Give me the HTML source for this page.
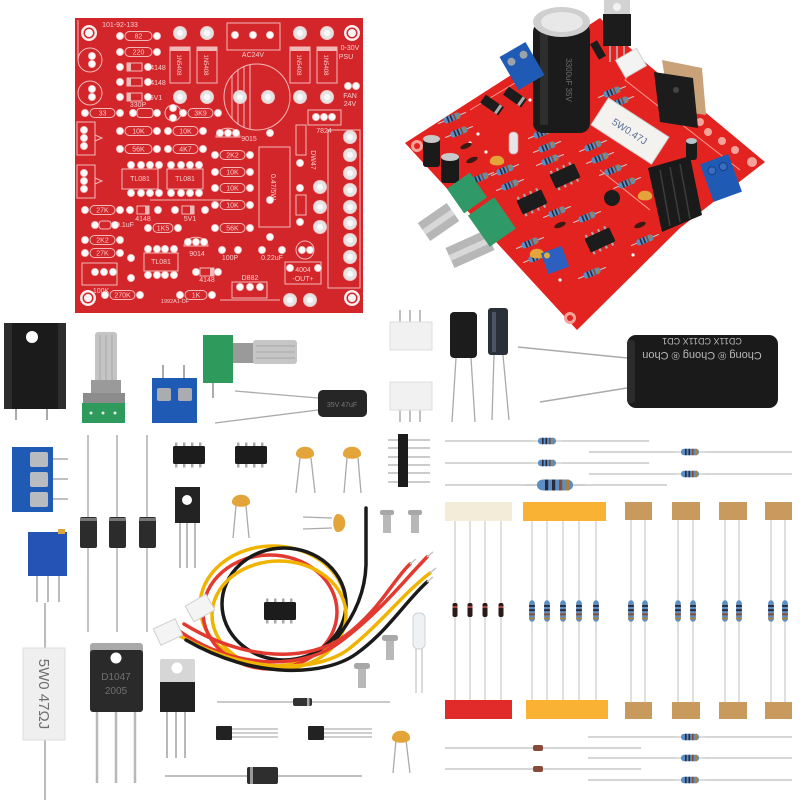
<!DOCTYPE html>
<html><head><meta charset="utf-8">
<style>html,body{margin:0;padding:0;background:#fff}svg{display:block}</style>
</head><body>
<svg width="800" height="800" viewBox="0 0 800 800" xmlns="http://www.w3.org/2000/svg" font-family="Liberation Sans, sans-serif">
<defs>
  <circle id="p" r="3.6" fill="#fbfbfb" stroke="#f0b6b6" stroke-width="0.8"/>
  <g id="P"><circle r="6.5" fill="#e4e4e4" stroke="#f4c4c4" stroke-width="1"/><circle r="3" fill="#fafafa"/></g>
  <g id="rb">
    <line x1="-15" y1="0" x2="15" y2="0" stroke="#c9c9c9" stroke-width="1"/>
    <rect x="-9" y="-3.2" width="18" height="6.4" rx="3" fill="#5b8ec4"/>
    <rect x="-5" y="-3.2" width="1.6" height="6.4" fill="#2a2a3a"/>
    <rect x="-1.5" y="-3.2" width="1.6" height="6.4" fill="#2a2a3a"/>
    <rect x="2" y="-3.2" width="1.6" height="6.4" fill="#8b4b2b"/>
    <rect x="5.6" y="-3.2" width="1.4" height="6.4" fill="#b08030"/>
  </g>
  <g id="ic">
    <rect x="-14" y="-12.5" width="2.5" height="4" fill="#aaa"/><rect x="-6" y="-12.5" width="2.5" height="4" fill="#aaa"/><rect x="2" y="-12.5" width="2.5" height="4" fill="#aaa"/><rect x="10" y="-12.5" width="2.5" height="4" fill="#aaa"/>
    <rect x="-14" y="8.5" width="2.5" height="4" fill="#aaa"/><rect x="-6" y="8.5" width="2.5" height="4" fill="#aaa"/><rect x="2" y="8.5" width="2.5" height="4" fill="#aaa"/><rect x="10" y="8.5" width="2.5" height="4" fill="#aaa"/>
    <rect x="-16" y="-9" width="32" height="18" rx="1.5" fill="#1c1c1c"/>
  </g>
  <g id="cc">
    <path d="M-9,3 C-10,-8 10,-8 9,3 C7,8 -7,8 -9,3 Z" fill="#e3a53a"/>
  </g>
</defs>
<rect width="800" height="800" fill="#fff"/>

<!-- ================= FLAT PCB ================= -->
<rect x="75" y="18" width="288" height="295" fill="#d3262b"/>
<g fill="none" stroke="#f2b8b8" stroke-width="1">
  <!-- resistor outlines -->
  <rect x="125" y="31.5" width="27" height="9" rx="4.5"/>
  <rect x="125" y="47.5" width="27" height="9" rx="4.5"/>
  <rect x="90" y="108.5" width="25" height="9" rx="4.5"/>
  <rect x="188" y="108.5" width="25" height="9" rx="4.5"/>
  <rect x="125" y="126.5" width="27" height="9" rx="4.5"/>
  <rect x="173" y="126.5" width="25" height="9" rx="4.5"/>
  <rect x="125" y="144.5" width="27" height="9" rx="4.5"/>
  <rect x="173" y="144.5" width="25" height="9" rx="4.5"/>
  <rect x="220" y="150.5" width="25" height="9" rx="4.5"/>
  <rect x="220" y="167.5" width="25" height="9" rx="4.5"/>
  <rect x="220" y="183.5" width="25" height="9" rx="4.5"/>
  <rect x="220" y="200.5" width="25" height="9" rx="4.5"/>
  <rect x="220" y="223.5" width="25" height="9" rx="4.5"/>
  <rect x="90" y="205.5" width="25" height="9" rx="4.5"/>
  <rect x="90" y="235.5" width="25" height="9" rx="4.5"/>
  <rect x="90" y="248.5" width="25" height="9" rx="4.5"/>
  <rect x="110" y="290.5" width="25" height="9" rx="4.5"/>
  <rect x="185" y="290.5" width="22" height="9" rx="4.5"/>
  <rect x="153" y="223.5" width="20" height="9" rx="4.5"/>
  <rect x="99" y="221" width="12" height="8" rx="3"/>
  <rect x="137" y="108.5" width="16" height="9" rx="3"/>
  <!-- diodes -->
  <rect x="127" y="63" width="15" height="8"/><rect x="127" y="78" width="15" height="8"/><rect x="127" y="93" width="15" height="8"/>
  <rect x="137" y="206" width="12" height="8"/><rect x="182" y="206" width="12" height="8"/><rect x="200" y="268" width="14" height="8"/>
  <!-- caps circles -->
  <circle cx="90" cy="60" r="12"/><circle cx="90" cy="93" r="12"/>
  <circle cx="173" cy="113" r="8"/>
  <circle cx="305" cy="250" r="9"/>
  <!-- pot boxes -->
  <rect x="77" y="122" width="18" height="33"/><rect x="77" y="165" width="18" height="33"/>
  <path d="M95,135 L102,138 L95,141"/><path d="M95,178 L102,181 L95,184"/>
  <!-- ICs -->
  <rect x="122" y="169" width="36" height="20"/><rect x="167" y="169" width="36" height="20"/><rect x="144" y="253" width="34" height="18"/>
  <!-- transistor outlines -->
  <path d="M216,137 A11,8 0 0 1 240,137 Z"/>
  <path d="M184,246 A11,8 0 0 1 208,246 Z"/>
  <rect x="232" y="282" width="35" height="16"/>
  <!-- big cap -->
  <circle cx="257" cy="97" r="33"/>
  <line x1="232" y1="75" x2="232" y2="119"/><line x1="238" y1="69" x2="238" y2="125"/><line x1="244" y1="66" x2="244" y2="128"/><line x1="250" y1="65" x2="250" y2="129"/>
  <!-- terminal -->
  <rect x="227" y="23" width="53" height="27"/>
  <!-- 1N5408 -->
  <rect x="170" y="47" width="20" height="36"/><rect x="197" y="47" width="20" height="36"/>
  <rect x="290" y="47" width="20" height="36"/><rect x="317" y="47" width="20" height="36"/>
  <!-- 7824 -->
  <rect x="308" y="110" width="33" height="15"/>
  <rect x="296" y="125" width="10" height="30"/>
  <rect x="259" y="147" width="31" height="80"/>
  <rect x="296" y="195" width="10" height="20"/>
  <rect x="328" y="130" width="32" height="158"/>
  <rect x="285" y="262" width="36" height="22"/>
  <rect x="82" y="263" width="35" height="22"/>
  <path d="M78,20 L78,60"/>
  <path d="M150,200 L230,200 M220,300 L280,300"/>
</g>
<g fill="#f2b8b8">
  <rect x="127" y="63" width="4" height="8"/><rect x="127" y="78" width="4" height="8"/><rect x="127" y="93" width="4" height="8"/>
  <rect x="145" y="206" width="4" height="8"/><rect x="190" y="206" width="4" height="8"/><rect x="210" y="268" width="4" height="8"/>
  <rect x="170" y="47" width="20" height="4"/><rect x="197" y="47" width="20" height="4"/>
  <rect x="290" y="47" width="20" height="4"/><rect x="317" y="47" width="20" height="4"/>
</g>
<g fill="#f7cccc" font-size="7" text-anchor="middle">
  <text x="138.5" y="38.5">82</text><text x="138.5" y="54.5">220</text>
  <text x="102.5" y="115.5">33</text><text x="200.5" y="115.5">3K9</text>
  <text x="138.5" y="133.5">10K</text><text x="185.5" y="133.5">10K</text>
  <text x="138.5" y="151.5">56K</text><text x="185.5" y="151.5">4K7</text>
  <text x="232.5" y="157.5">2K2</text><text x="232.5" y="174.5">10K</text>
  <text x="232.5" y="190.5">10K</text><text x="232.5" y="207.5">10K</text>
  <text x="232.5" y="230.5">56K</text>
  <text x="102.5" y="212.5">27K</text><text x="102.5" y="242.5">2K2</text><text x="102.5" y="255.5">27K</text>
  <text x="122.5" y="297.5">270K</text><text x="196" y="297.5">1K</text><text x="163" y="230.5">1K5</text>
  <text x="158" y="70">4148</text><text x="158" y="85">4148</text><text x="156" y="100">5V1</text>
  <text x="138" y="107">330P</text>
  <text x="143" y="221">4148</text><text x="190" y="221">5V1</text><text x="207" y="282">4148</text>
  <text x="125" y="227">0.1uF</text>
  <text x="140" y="181">TL081</text><text x="185" y="181">TL081</text><text x="161" y="264">TL081</text>
  <text x="249" y="141">9015</text><text x="197" y="256">9014</text>
  <text x="230" y="260">100P</text><text x="272" y="260">0.22uF</text>
  <text x="250" y="280">D882</text>
  <text x="303" y="272">4004</text><text x="303" y="281">-OUT+</text>
  <text x="101" y="293">100K</text>
  <text x="253" y="57">AC24V</text>
  <text x="324" y="133">7824</text>
  <text x="350" y="50">0-30V</text><text x="346" y="59">PSU</text>
  <text x="350" y="98">FAN</text><text x="350" y="106">24V</text>
  <text x="120" y="27">101-92-133</text>
  <text x="175" y="303" font-size="5.5">1992A1-DF</text>
  <text x="274" y="190" transform="rotate(90 274 187)">0.47/5W</text>
  <text x="180" y="68" transform="rotate(90 180 65)" font-size="6">1N5408</text>
  <text x="207" y="68" transform="rotate(90 207 65)" font-size="6">1N5408</text>
  <text x="300" y="68" transform="rotate(90 300 65)" font-size="6">1N5408</text>
  <text x="327" y="68" transform="rotate(90 327 65)" font-size="6">1N5408</text>
  <text x="313" y="162" transform="rotate(90 313 160)">DW47</text>
</g>
<g>
  <!-- corner holes -->
  <circle cx="89" cy="33" r="8" fill="#fbeeee"/><circle cx="89" cy="33" r="5.5" fill="#d3262b"/><circle cx="89" cy="33" r="4" fill="#f5f5f5"/>
  <circle cx="352" cy="33" r="8" fill="#fbeeee"/><circle cx="352" cy="33" r="5.5" fill="#d3262b"/><circle cx="352" cy="33" r="4" fill="#f5f5f5"/>
  <circle cx="88" cy="298" r="8" fill="#fbeeee"/><circle cx="88" cy="298" r="5.5" fill="#d3262b"/><circle cx="88" cy="298" r="4" fill="#f5f5f5"/>
  <circle cx="352" cy="298" r="8" fill="#fbeeee"/><circle cx="352" cy="298" r="5.5" fill="#d3262b"/><circle cx="352" cy="298" r="4" fill="#f5f5f5"/>
  <!-- small pads -->
  <use href="#p" x="120" y="36"/><use href="#p" x="157" y="36"/>
  <use href="#p" x="120" y="52"/><use href="#p" x="157" y="52"/>
  <use href="#p" x="120" y="67"/><use href="#p" x="148" y="67"/>
  <use href="#p" x="120" y="82"/><use href="#p" x="148" y="82"/>
  <use href="#p" x="120" y="97"/><use href="#p" x="148" y="97"/>
  <use href="#p" x="85" y="113"/><use href="#p" x="120" y="113"/>
  <use href="#p" x="133" y="113"/><use href="#p" x="157" y="113"/>
  <use href="#p" x="173" y="108"/><use href="#p" x="173" y="118"/>
  <use href="#p" x="183" y="113"/><use href="#p" x="218" y="113"/>
  <use href="#p" x="120" y="131"/><use href="#p" x="157" y="131"/><use href="#p" x="168" y="131"/><use href="#p" x="203" y="131"/>
  <use href="#p" x="120" y="149"/><use href="#p" x="157" y="149"/><use href="#p" x="168" y="149"/><use href="#p" x="203" y="149"/>
  <use href="#p" x="220" y="133"/><use href="#p" x="228" y="133"/><use href="#p" x="236" y="133"/>
  <use href="#p" x="215" y="155"/><use href="#p" x="250" y="155"/>
  <use href="#p" x="215" y="172"/><use href="#p" x="250" y="172"/>
  <use href="#p" x="215" y="188"/><use href="#p" x="250" y="188"/>
  <use href="#p" x="215" y="205"/><use href="#p" x="250" y="205"/>
  <use href="#p" x="215" y="228"/><use href="#p" x="250" y="228"/>
  <use href="#p" x="85" y="210"/><use href="#p" x="120" y="210"/>
  <use href="#p" x="130" y="210"/><use href="#p" x="158" y="210"/>
  <use href="#p" x="175" y="210"/><use href="#p" x="205" y="210"/>
  <use href="#p" x="95" y="225"/><use href="#p" x="115" y="225"/>
  <use href="#p" x="85" y="240"/><use href="#p" x="120" y="240"/>
  <use href="#p" x="85" y="253"/><use href="#p" x="120" y="253"/>
  <use href="#p" x="148" y="228"/><use href="#p" x="178" y="228"/>
  <use href="#p" x="131" y="258"/><use href="#p" x="131" y="278"/>
  <use href="#p" x="95" y="272"/><use href="#p" x="104" y="272"/><use href="#p" x="113" y="272"/>
  <use href="#p" x="105" y="295"/><use href="#p" x="140" y="295"/>
  <use href="#p" x="180" y="295"/><use href="#p" x="212" y="295"/>
  <use href="#p" x="92" y="56"/><use href="#p" x="92" y="64"/>
  <use href="#p" x="92" y="89"/><use href="#p" x="92" y="97"/>
  <use href="#p" x="84" y="130"/><use href="#p" x="84" y="138"/><use href="#p" x="84" y="146"/>
  <use href="#p" x="84" y="173"/><use href="#p" x="84" y="181"/><use href="#p" x="84" y="189"/>
  <use href="#p" x="131" y="165"/><use href="#p" x="141" y="165"/><use href="#p" x="150" y="165"/><use href="#p" x="159" y="165"/>
  <use href="#p" x="131" y="193"/><use href="#p" x="141" y="193"/><use href="#p" x="150" y="193"/><use href="#p" x="159" y="193"/>
  <use href="#p" x="171" y="165"/><use href="#p" x="181" y="165"/><use href="#p" x="190" y="165"/><use href="#p" x="199" y="165"/>
  <use href="#p" x="171" y="193"/><use href="#p" x="181" y="193"/><use href="#p" x="190" y="193"/><use href="#p" x="199" y="193"/>
  <use href="#p" x="148" y="249"/><use href="#p" x="157" y="249"/><use href="#p" x="165" y="249"/><use href="#p" x="174" y="249"/>
  <use href="#p" x="148" y="275"/><use href="#p" x="157" y="275"/><use href="#p" x="165" y="275"/><use href="#p" x="174" y="275"/>
  <use href="#p" x="188" y="242"/><use href="#p" x="196" y="242"/><use href="#p" x="204" y="242"/>
  <use href="#p" x="222" y="250"/><use href="#p" x="238" y="250"/>
  <use href="#p" x="262" y="250"/><use href="#p" x="282" y="250"/>
  <use href="#p" x="302" y="250"/><use href="#p" x="310" y="250"/>
  <use href="#p" x="290" y="268"/><use href="#p" x="318" y="268"/>
  <use href="#p" x="240" y="287"/><use href="#p" x="250" y="287"/><use href="#p" x="260" y="287"/>
  <use href="#p" x="196" y="272"/><use href="#p" x="218" y="272"/>
  <use href="#p" x="235" y="35"/><use href="#p" x="253" y="35"/><use href="#p" x="270" y="35"/>
  <use href="#p" x="316" y="117"/><use href="#p" x="324" y="117"/><use href="#p" x="332" y="117"/>
  <use href="#p" x="300" y="163"/><use href="#p" x="270" y="133"/><use href="#p" x="270" y="237"/>
  <use href="#p" x="300" y="188"/><use href="#p" x="300" y="222"/>
  <use href="#p" x="348" y="86"/><use href="#p" x="356" y="86"/>
  <use href="#p" x="270" y="200"/>
  <!-- big pads -->
  <use href="#P" x="180" y="33"/><use href="#P" x="207" y="33"/><use href="#P" x="180" y="97"/><use href="#P" x="207" y="97"/>
  <use href="#P" x="300" y="33"/><use href="#P" x="327" y="33"/><use href="#P" x="300" y="97"/><use href="#P" x="327" y="97"/>
  <use href="#P" x="240" y="97"/><use href="#P" x="268" y="97"/>
  <use href="#P" x="320" y="187"/><use href="#P" x="320" y="207"/><use href="#P" x="320" y="227"/>
  <use href="#P" x="350" y="137"/><use href="#P" x="350" y="155"/><use href="#P" x="350" y="173"/><use href="#P" x="350" y="190"/>
  <use href="#P" x="350" y="207"/><use href="#P" x="350" y="223"/><use href="#P" x="350" y="240"/><use href="#P" x="350" y="257"/><use href="#P" x="350" y="274"/>
  <use href="#P" x="290" y="300"/><use href="#P" x="310" y="300"/>
</g>

<!-- ================= ASSEMBLED BOARD ================= -->
<polygon points="405,143 600,18 640,58 765,162 680,228 577,330" fill="#e3231f"/>
<g fill="none" stroke="#f59a90" stroke-width="1">
  <path d="M640,58 L625,80 L740,170"/>
  <path d="M655,75 L690,100"/>
  <path d="M470,110 L520,80"/>
  <path d="M600,170 L650,210"/>
</g>
<g fill="#f7a39b">
  <circle cx="417" cy="146" r="6"/><circle cx="570" cy="318" r="6"/>
  <circle cx="708" cy="132" r="4"/><circle cx="722" cy="141" r="4"/><circle cx="735" cy="150" r="4"/>
  <circle cx="700" cy="122" r="4"/><circle cx="752" cy="162" r="5"/>
</g>
<g fill="#e3231f"><circle cx="417" cy="146" r="3"/><circle cx="570" cy="318" r="3"/></g>
<g fill="#fff"><circle cx="478" cy="134" r="1.6"/><circle cx="470" cy="143" r="1.6"/><circle cx="486" cy="152" r="1.6"/><circle cx="560" cy="280" r="1.6"/><circle cx="610" cy="240" r="1.6"/><circle cx="633" cy="255" r="1.6"/><circle cx="650" cy="260" r="1.6"/><circle cx="530" cy="100" r="1.6"/></g>

<!-- board resistors -->
<g>
  <use href="#rb" transform="translate(452,118) rotate(-22)"/>
  <use href="#rb" transform="translate(459,132) rotate(-22)"/>
  <use href="#rb" transform="translate(542,133) rotate(-22)"/>
  <use href="#rb" transform="translate(547,147) rotate(-22)"/>
  <use href="#rb" transform="translate(550,160) rotate(-22)"/>
  <use href="#rb" transform="translate(593,146) rotate(-22)"/>
  <use href="#rb" transform="translate(600,158) rotate(-22)"/>
  <use href="#rb" transform="translate(505,170) rotate(-22)"/>
  <use href="#rb" transform="translate(510,185) rotate(-22)"/>
  <use href="#rb" transform="translate(480,178) rotate(-22)"/>
  <use href="#rb" transform="translate(613,170) rotate(-22)"/>
  <use href="#rb" transform="translate(627,183) rotate(-22)"/>
  <use href="#rb" transform="translate(587,217) rotate(-22)"/>
  <use href="#rb" transform="translate(530,243) rotate(-22)"/>
  <use href="#rb" transform="translate(537,257) rotate(-22)"/>
  <use href="#rb" transform="translate(592,273) rotate(-22)"/>
  <use href="#rb" transform="translate(645,240) rotate(-22)"/>
  <use href="#rb" transform="translate(612,92) rotate(-22)"/>
  <use href="#rb" transform="translate(620,102) rotate(-22)"/>
  <use href="#rb" transform="translate(557,212) rotate(-22)"/>
</g>
<!-- small glass diodes -->
<g fill="#3a1a14">
  <ellipse cx="466" cy="146" rx="6" ry="2.5" transform="rotate(-22 466 146)"/>
  <ellipse cx="472" cy="160" rx="6" ry="2.5" transform="rotate(-22 472 160)"/>
  <ellipse cx="560" cy="225" rx="6" ry="2.5" transform="rotate(-22 560 225)"/>
  <ellipse cx="640" cy="225" rx="6" ry="2.5" transform="rotate(-22 640 225)"/>
</g>
<!-- ceramic caps on board -->
<use href="#cc" transform="translate(497,160) scale(0.8)"/>
<use href="#cc" transform="translate(537,253) scale(0.8)"/>
<use href="#cc" transform="translate(645,195) scale(0.8)"/>
<use href="#cc" transform="translate(668,172) scale(0.8)"/>
<!-- black diodes -->
<g transform="translate(492,105) rotate(35)"><rect x="-11" y="-5" width="22" height="10" fill="#1c1c1c"/><rect x="6" y="-5" width="3" height="10" fill="#aaa"/></g>
<g transform="translate(515,97) rotate(35)"><rect x="-11" y="-5" width="22" height="10" fill="#1c1c1c"/><rect x="6" y="-5" width="3" height="10" fill="#aaa"/></g>
<g transform="translate(598,50) rotate(60)"><rect x="-9" y="-4" width="18" height="8" fill="#1c1c1c"/></g>
<!-- LED on board -->
<rect x="509" y="132" width="9" height="22" rx="4" fill="#e9e4e6" stroke="#c9a0a0" stroke-width="0.7"/>
<!-- electrolytic small caps -->
<rect x="423" y="137" width="17" height="30" rx="3" fill="#1a1a1a"/><ellipse cx="431.5" cy="139" rx="8.5" ry="4" fill="#c8c8c8"/>
<rect x="441" y="155" width="18" height="28" rx="3" fill="#1a1a1a"/><ellipse cx="450" cy="157" rx="9" ry="4" fill="#c8c8c8"/>
<rect x="686" y="140" width="11" height="20" rx="3" fill="#1a1a1a"/><ellipse cx="691.5" cy="141" rx="5.5" ry="3" fill="#b8c4cc"/>
<!-- big capacitor -->
<rect x="533" y="22" width="57" height="111" rx="10" fill="#1b1b1b"/>
<rect x="540" y="30" width="8" height="95" fill="#2e2e2e"/>
<ellipse cx="561.5" cy="22" rx="28.5" ry="15" fill="#cfcfcf"/>
<ellipse cx="562" cy="22" rx="21" ry="10" fill="#e8e8e8"/>
<text x="566" y="80" font-size="8" fill="#6d6d6d" transform="rotate(90 566 80)" text-anchor="middle">3300uF 35V</text>
<!-- blue terminal top-left -->
<g transform="translate(522,66) rotate(-30)"><rect x="-15" y="-19" width="30" height="38" fill="#1f5bb5"/><circle cx="-7" cy="-9" r="4" fill="#9aa2aa"/><circle cx="7" cy="-9" r="4" fill="#9aa2aa"/></g>
<!-- TO-220 top -->
<rect x="604" y="0" width="26" height="16" fill="#d2d2d2"/><circle cx="617" cy="7" r="4" fill="#f2f2f2"/>
<rect x="603" y="14" width="28" height="32" fill="#1c1c1c"/>
<g stroke="#bbb" stroke-width="1.5"><line x1="610" y1="46" x2="610" y2="62"/><line x1="617" y1="46" x2="617" y2="62"/><line x1="624" y1="46" x2="624" y2="62"/></g>
<!-- white connector -->
<g transform="translate(631,63) rotate(-30)"><rect x="-12" y="-10" width="24" height="20" fill="#f3f3f3" stroke="#d0d0d0"/></g>
<!-- TO-3P -->
<polygon points="662,60 702,68 706,115 670,110" fill="#c9a27a"/>
<polygon points="654,72 693,78 698,128 660,122" fill="#1c1c1c"/>
<circle cx="676" cy="90" r="3" fill="#444"/>
<!-- white power resistor -->
<g transform="translate(630,131) rotate(33)">
  <rect x="-36" y="-16" width="72" height="32" fill="#f3f2ee" stroke="#cfcfcf"/>
  <text x="0" y="4" font-size="10" fill="#5c6f98" text-anchor="middle">5W0.47J</text>
</g>
<!-- heatsink -->
<polygon points="648,168 690,156 702,215 662,232" fill="#1a1a1a"/>
<g stroke="#3c3c3c" stroke-width="1.5"><line x1="660" y1="170" x2="670" y2="226"/><line x1="670" y1="167" x2="680" y2="222"/><line x1="680" y1="164" x2="690" y2="219"/></g>
<!-- TO-92 on board -->
<circle cx="612" cy="198" r="8" fill="#1c1c1c"/>
<!-- blue terminal right -->
<g transform="translate(721,178) rotate(-20)"><rect x="-15" y="-20" width="30" height="40" fill="#1f5bb5"/><circle cx="-6" cy="-10" r="4" fill="#3a6cc0" stroke="#163f80"/><circle cx="6" cy="-10" r="4" fill="#3a6cc0" stroke="#163f80"/></g>
<!-- ICs on board -->
<use href="#ic" transform="translate(532,202) rotate(-25) scale(0.85)"/>
<use href="#ic" transform="translate(565,176) rotate(-25) scale(0.85)"/>
<use href="#ic" transform="translate(600,240) rotate(-25) scale(0.85)"/>
<!-- trimpot on board -->
<g transform="translate(555,260) rotate(-20)"><rect x="-11" y="-11" width="22" height="22" fill="#2d5fc0"/><circle cx="-6" cy="-7" r="3" fill="#d9b040"/></g>
<!-- pots on board -->
<line x1="453" y1="212" x2="424" y2="232" stroke="#b7b7b7" stroke-width="22"/>
<line x1="453" y1="212" x2="424" y2="232" stroke="#d8d8d8" stroke-width="6"/>
<line x1="490" y1="240" x2="450" y2="258" stroke="#b7b7b7" stroke-width="22"/>
<line x1="490" y1="240" x2="450" y2="258" stroke="#d8d8d8" stroke-width="6"/>
<g transform="translate(467,193) rotate(-35)"><rect x="-14" y="-15" width="28" height="30" fill="#2f9a68"/></g>
<g transform="translate(492,222) rotate(-35)"><rect x="-16" y="-19" width="32" height="38" fill="#2f9a68"/></g>

<!-- ================= LOOSE PARTS ROW 1 ================= -->
<!-- heatsink -->
<rect x="4" y="323" width="62" height="86" fill="#1b1b1b"/>
<rect x="4" y="323" width="8" height="86" fill="#2d2d2d"/><rect x="58" y="323" width="8" height="86" fill="#2d2d2d"/>
<circle cx="32" cy="337" r="6" fill="#fff"/>
<g stroke="#aaa" stroke-width="2"><line x1="16" y1="409" x2="16" y2="420"/><line x1="47" y1="409" x2="47" y2="420"/></g>
<!-- vertical pot -->
<rect x="95" y="332" width="22" height="50" rx="3" fill="#c4c4c4"/>
<g stroke="#a8a8a8" stroke-width="1"><line x1="100" y1="335" x2="100" y2="380"/><line x1="106" y1="335" x2="106" y2="380"/><line x1="112" y1="335" x2="112" y2="380"/></g>
<rect x="91" y="380" width="30" height="14" fill="#9a9a9a"/>
<rect x="83" y="393" width="42" height="10" fill="#8c8c8c"/>
<rect x="82" y="403" width="43" height="20" fill="#2e9a5c"/>
<g fill="#e6e6e6"><circle cx="91" cy="413" r="1.5"/><circle cx="103" cy="413" r="1.5"/><circle cx="115" cy="413" r="1.5"/></g>
<!-- blue 2-pin terminal -->
<g stroke="#aaa" stroke-width="2"><line x1="163" y1="365" x2="163" y2="378"/><line x1="184" y1="365" x2="184" y2="378"/></g>
<rect x="152" y="378" width="45" height="45" fill="#1f5bb5"/>
<rect x="157" y="388" width="14" height="13" rx="2" fill="#a9adb2"/><rect x="178" y="388" width="14" height="13" rx="2" fill="#a9adb2"/>
<!-- horizontal pot -->
<rect x="233" y="343" width="22" height="20" fill="#9a9a9a"/>
<rect x="253" y="340" width="44" height="24" rx="3" fill="#c6c6c6"/>
<g stroke="#a8a8a8"><line x1="256" y1="346" x2="295" y2="346"/><line x1="256" y1="352" x2="295" y2="352"/><line x1="256" y1="358" x2="295" y2="358"/></g>
<rect x="203" y="335" width="30" height="48" fill="#2e9a5c"/>
<line x1="213" y1="383" x2="213" y2="398" stroke="#aaa" stroke-width="2"/>
<!-- small electrolytic horizontal -->
<g stroke="#aaa" stroke-width="1.3" fill="none"><path d="M235,391 L318,398"/><path d="M215,423 L318,410"/></g>
<rect x="318" y="390" width="49" height="27" rx="5" fill="#262626"/>
<text x="342" y="407" font-size="7" fill="#777" text-anchor="middle">35V 47uF</text>
<!-- white connectors -->
<g stroke="#aaa" stroke-width="1.5"><line x1="400" y1="310" x2="400" y2="322"/><line x1="410" y1="310" x2="410" y2="322"/><line x1="420" y1="310" x2="420" y2="322"/>
<line x1="400" y1="410" x2="400" y2="422"/><line x1="410" y1="410" x2="410" y2="422"/><line x1="420" y1="410" x2="420" y2="422"/></g>
<rect x="390" y="322" width="42" height="28" fill="#f1f1f1" stroke="#dedede"/>
<rect x="390" y="382" width="42" height="28" fill="#f1f1f1" stroke="#dedede"/>
<!-- small electrolytic vertical -->
<g stroke="#aaa" stroke-width="1.3"><line x1="456" y1="358" x2="452" y2="422"/><line x1="471" y1="358" x2="475" y2="422"/><line x1="494" y1="355" x2="492" y2="420"/><line x1="503" y1="355" x2="509" y2="420"/></g>
<rect x="450" y="312" width="27" height="46" rx="4" fill="#1c1c1c"/>
<rect x="488" y="308" width="20" height="47" rx="3" fill="#2a3038"/>
<rect x="492" y="312" width="4" height="40" fill="#4a5462"/>
<!-- big capacitor -->
<g stroke="#aaa" stroke-width="1.5"><line x1="518" y1="347" x2="627" y2="358"/><line x1="540" y1="402" x2="627" y2="388"/></g>
<rect x="627" y="335" width="151" height="73" rx="9" fill="#1a1a1a"/>
<rect x="627" y="340" width="8" height="63" rx="3" fill="#2b2b2b"/>
<g fill="#b8b8b8" font-size="11" text-anchor="middle" transform="rotate(180 702 360)">
  <text x="702" y="368">Chong ® Chong ® Chon</text>
  <text x="702" y="382" font-size="9">CD11X   CD11X   CD1</text>
</g>

<!-- ================= ROW 2 ================= -->
<!-- blue 3-pin terminal -->
<g stroke="#aaa" stroke-width="1.5"><line x1="53" y1="459" x2="68" y2="459"/><line x1="53" y1="479" x2="68" y2="479"/><line x1="53" y1="499" x2="68" y2="499"/></g>
<rect x="12" y="447" width="41" height="65" fill="#1f5bb5"/>
<rect x="30" y="452" width="18" height="15" rx="2" fill="#b8bcc0"/><rect x="30" y="472" width="18" height="15" rx="2" fill="#b8bcc0"/><rect x="30" y="492" width="18" height="15" rx="2" fill="#b8bcc0"/>
<!-- diodes vertical -->
<g stroke="#b4b4b4" stroke-width="1.6"><line x1="88" y1="435" x2="88" y2="632"/><line x1="117" y1="435" x2="117" y2="632"/><line x1="147" y1="435" x2="147" y2="632"/></g>
<rect x="80" y="517" width="17" height="31" rx="2" fill="#2c2c2c"/><rect x="109" y="517" width="17" height="31" rx="2" fill="#2c2c2c"/><rect x="139" y="517" width="17" height="31" rx="2" fill="#2c2c2c"/>
<rect x="80" y="518" width="17" height="3" fill="#777"/><rect x="109" y="518" width="17" height="3" fill="#777"/><rect x="139" y="518" width="17" height="3" fill="#777"/>
<!-- ICs -->
<use href="#ic" transform="translate(189,455)"/>
<use href="#ic" transform="translate(251,455)"/>
<!-- TO-126 -->
<g stroke="#aaa" stroke-width="1.6"><line x1="180" y1="523" x2="180" y2="568"/><line x1="187" y1="523" x2="187" y2="568"/><line x1="195" y1="523" x2="195" y2="568"/></g>
<rect x="175" y="487" width="25" height="36" fill="#232323"/>
<circle cx="187" cy="500" r="5" fill="#fff"/>
<!-- ceramic caps -->
<g stroke="#aaa" stroke-width="1.3" fill="none">
  <path d="M300,458 L296,493"/><path d="M311,458 L315,493"/>
  <path d="M347,458 L344,493"/><path d="M358,458 L361,493"/>
  <path d="M236,506 L233,538"/><path d="M246,506 L249,538"/>
  <path d="M332,518 L303,517"/><path d="M332,528 L303,529"/>
</g>
<use href="#cc" transform="translate(305,452)"/>
<use href="#cc" transform="translate(352,452)"/>
<use href="#cc" transform="translate(241,500)"/>
<use href="#cc" transform="translate(340,523) rotate(90)"/>
<!-- screws -->
<rect x="380" y="510" width="14" height="5" rx="2" fill="#a8a8a8"/><rect x="383" y="515" width="8" height="18" fill="#b8b8b8"/>
<rect x="408" y="510" width="14" height="5" rx="2" fill="#a8a8a8"/><rect x="411" y="515" width="8" height="18" fill="#b8b8b8"/>
<!-- pin header -->
<g stroke="#9a9a9a" stroke-width="1"><line x1="388" y1="440" x2="430" y2="440"/><line x1="388" y1="448" x2="430" y2="448"/><line x1="388" y1="457" x2="430" y2="457"/><line x1="388" y1="465" x2="430" y2="465"/><line x1="388" y1="473" x2="430" y2="473"/><line x1="388" y1="482" x2="430" y2="482"/></g>
<rect x="398" y="434" width="10" height="53" fill="#1c1c1c"/>

<!-- resistors right top -->
<g stroke="#bdbdbd" stroke-width="1.2"><line x1="445" y1="441" x2="649" y2="441"/><line x1="589" y1="452" x2="792" y2="452"/><line x1="445" y1="463" x2="649" y2="463"/><line x1="589" y1="474" x2="792" y2="474"/><line x1="445" y1="485" x2="667" y2="485"/></g>
<use href="#rb" transform="translate(547,441)"/>
<use href="#rb" transform="translate(690,452)"/>
<use href="#rb" transform="translate(547,463)"/>
<use href="#rb" transform="translate(690,474)"/>
<use href="#rb" transform="translate(555,485) scale(2,1.7)"/>

<!-- tapes -->
<rect x="445" y="502" width="67" height="19" fill="#f3ecd8"/>
<rect x="523" y="502" width="83" height="19" fill="#f9b233"/>
<rect x="625" y="502" width="27" height="18" fill="#c99a5e"/>
<rect x="672" y="502" width="28" height="18" fill="#c99a5e"/>
<rect x="719" y="502" width="28" height="18" fill="#c99a5e"/>
<rect x="765" y="502" width="27" height="18" fill="#c99a5e"/>
<rect x="445" y="700" width="67" height="19" fill="#e12b2b"/>
<rect x="526" y="700" width="82" height="19" fill="#f9b233"/>
<rect x="625" y="702" width="27" height="17" fill="#c99a5e"/>
<rect x="672" y="702" width="28" height="17" fill="#c99a5e"/>
<rect x="719" y="702" width="28" height="17" fill="#c99a5e"/>
<rect x="765" y="702" width="27" height="17" fill="#c99a5e"/>
<g stroke="#cfcfcf" stroke-width="1.3">
  <line x1="455" y1="521" x2="455" y2="700"/><line x1="470" y1="521" x2="470" y2="700"/><line x1="485" y1="521" x2="485" y2="700"/><line x1="501" y1="521" x2="501" y2="700"/>
  <line x1="532" y1="521" x2="532" y2="700"/><line x1="547" y1="521" x2="547" y2="700"/><line x1="563" y1="521" x2="563" y2="700"/><line x1="579" y1="521" x2="579" y2="700"/><line x1="596" y1="521" x2="596" y2="700"/>
  <line x1="631" y1="520" x2="631" y2="702"/><line x1="645" y1="520" x2="645" y2="702"/>
  <line x1="678" y1="520" x2="678" y2="702"/><line x1="693" y1="520" x2="693" y2="702"/>
  <line x1="725" y1="520" x2="725" y2="702"/><line x1="739" y1="520" x2="739" y2="702"/>
  <line x1="771" y1="520" x2="771" y2="702"/><line x1="785" y1="520" x2="785" y2="702"/>
</g>
<g fill="#2a1a1a"><rect x="452.5" y="603" width="5" height="14" rx="2"/><rect x="467.5" y="603" width="5" height="14" rx="2"/><rect x="482.5" y="603" width="5" height="14" rx="2"/><rect x="498.5" y="603" width="5" height="14" rx="2"/></g>
<g fill="#aa4444"><rect x="452.5" y="606" width="5" height="2"/><rect x="467.5" y="606" width="5" height="2"/><rect x="482.5" y="606" width="5" height="2"/><rect x="498.5" y="606" width="5" height="2"/></g>
<g>
  <use href="#rb" transform="translate(532,611) rotate(90) scale(1.2,0.9)"/>
  <use href="#rb" transform="translate(547,611) rotate(90) scale(1.2,0.9)"/>
  <use href="#rb" transform="translate(563,611) rotate(90) scale(1.2,0.9)"/>
  <use href="#rb" transform="translate(579,611) rotate(90) scale(1.2,0.9)"/>
  <use href="#rb" transform="translate(596,611) rotate(90) scale(1.2,0.9)"/>
  <use href="#rb" transform="translate(631,611) rotate(90) scale(1.2,0.9)"/>
  <use href="#rb" transform="translate(645,611) rotate(90) scale(1.2,0.9)"/>
  <use href="#rb" transform="translate(678,611) rotate(90) scale(1.2,0.9)"/>
  <use href="#rb" transform="translate(693,611) rotate(90) scale(1.2,0.9)"/>
  <use href="#rb" transform="translate(725,611) rotate(90) scale(1.2,0.9)"/>
  <use href="#rb" transform="translate(739,611) rotate(90) scale(1.2,0.9)"/>
  <use href="#rb" transform="translate(771,611) rotate(90) scale(1.2,0.9)"/>
  <use href="#rb" transform="translate(785,611) rotate(90) scale(1.2,0.9)"/>
</g>
<!-- bottom resistors -->
<g stroke="#bdbdbd" stroke-width="1.2"><line x1="588" y1="737" x2="792" y2="737"/><line x1="445" y1="748" x2="641" y2="748"/><line x1="588" y1="758" x2="792" y2="758"/><line x1="445" y1="769" x2="641" y2="769"/><line x1="588" y1="780" x2="792" y2="780"/></g>
<use href="#rb" transform="translate(690,737)"/>
<use href="#rb" transform="translate(690,758)"/>
<use href="#rb" transform="translate(690,780)"/>
<rect x="533" y="745" width="10" height="6" rx="2" fill="#8a4a3a"/>
<rect x="533" y="766" width="10" height="6" rx="2" fill="#8a4a3a"/>

<!-- ================= ROW 3 LEFT ================= -->
<!-- trimpot -->
<g stroke="#aaa" stroke-width="1.6"><line x1="37" y1="575" x2="37" y2="602"/><line x1="48" y1="575" x2="48" y2="602"/><line x1="59" y1="575" x2="59" y2="602"/></g>
<rect x="28" y="532" width="39" height="44" fill="#2452b5"/>
<rect x="58" y="529" width="7" height="5" fill="#d6a93a"/>
<!-- power resistor -->
<line x1="45" y1="603" x2="45" y2="800" stroke="#aaa" stroke-width="1.6"/>
<rect x="23" y="648" width="42" height="92" fill="#efefef" stroke="#dcdcdc"/>
<text x="44" y="694" font-size="15" fill="#6f6f6f" text-anchor="middle" transform="rotate(90 44 694)" dy="5">5W0 47ΩJ</text>
<!-- TO-3P -->
<g stroke="#b8b8b8" stroke-width="2.5"><line x1="97" y1="712" x2="97" y2="783"/><line x1="116" y1="712" x2="116" y2="783"/><line x1="135" y1="712" x2="135" y2="783"/></g>
<rect x="90" y="643" width="53" height="12" rx="3" fill="#a9a9a9"/>
<rect x="90" y="650" width="53" height="62" rx="3" fill="#2a2a2a"/>
<circle cx="116" cy="658" r="5.5" fill="#fff"/>
<text x="116" y="680" font-size="10" fill="#707070" text-anchor="middle">D1047</text>
<text x="116" y="694" font-size="10" fill="#707070" text-anchor="middle">2005</text>
<!-- TO-220 -->
<g stroke="#b8b8b8" stroke-width="2"><line x1="167" y1="712" x2="167" y2="758"/><line x1="176" y1="712" x2="176" y2="758"/><line x1="185" y1="712" x2="185" y2="758"/></g>
<rect x="160" y="659" width="35" height="24" rx="2" fill="#d6d6d6"/>
<circle cx="177" cy="668" r="5.5" fill="#fff"/>
<rect x="160" y="682" width="35" height="30" fill="#222"/>

<!-- wires -->
<g fill="none" stroke-width="3.5" stroke-linecap="round">
  <ellipse cx="273" cy="606" rx="73" ry="60" stroke="#f0b400"/>
  <ellipse cx="270" cy="612" rx="67" ry="57" stroke="#e23a30"/>
  <ellipse cx="284" cy="604" rx="62" ry="56" stroke="#1a1a1a"/>
  <ellipse cx="279" cy="615" rx="67" ry="54" stroke="#f0b400"/>
  <path d="M366,508 L366,565 C365,595 352,620 335,640" stroke="#1a1a1a"/>
  <path d="M178,630 C230,668 300,672 340,642 S400,585 427,557" stroke="#e23a30"/>
  <path d="M184,624 C245,662 310,662 345,636 S393,580 410,564" stroke="#e23a30"/>
  <path d="M180,636 C250,676 320,672 350,648 S405,592 430,573" stroke="#f0b400"/>
  <path d="M186,640 C255,680 325,676 356,654 S405,602 427,582" stroke="#1a1a1a"/>
</g>
<g stroke="#c8c8c8" stroke-width="1.5"><line x1="427" y1="557" x2="433" y2="552"/><line x1="410" y1="564" x2="416" y2="559"/><line x1="430" y1="573" x2="436" y2="568"/><line x1="427" y1="582" x2="433" y2="577"/></g>
<g transform="translate(168,632) rotate(-25)"><rect x="-12" y="-9" width="24" height="18" fill="#f4f4f4" stroke="#cfcfcf"/></g>
<g transform="translate(200,608) rotate(-30)"><rect x="-12" y="-9" width="24" height="18" fill="#f4f4f4" stroke="#cfcfcf"/></g>
<!-- IC among wires -->
<use href="#ic" transform="translate(280,611)"/>
<!-- screws -->
<rect x="382" y="635" width="16" height="6" rx="2.5" fill="#a8a8a8"/><rect x="386" y="641" width="8" height="19" fill="#b8b8b8"/>
<rect x="354" y="663" width="16" height="6" rx="2.5" fill="#a8a8a8"/><rect x="358" y="669" width="8" height="19" fill="#b8b8b8"/>
<!-- LED -->
<g stroke="#c6c6c6" stroke-width="1.3"><line x1="416" y1="649" x2="416" y2="693"/><line x1="422" y1="649" x2="422" y2="693"/></g>
<rect x="413" y="613" width="12" height="36" rx="5" fill="#eef2f4" stroke="#cdd2d6"/>
<!-- small diode horizontal -->
<line x1="217" y1="702" x2="390" y2="702" stroke="#aaa" stroke-width="1.3"/>
<rect x="293" y="698" width="19" height="8" rx="2" fill="#333"/><rect x="307" y="698" width="2.5" height="8" fill="#aaa"/>
<!-- TO-92 transistors -->
<g stroke="#b0b0b0" stroke-width="1.2"><line x1="232" y1="729" x2="278" y2="729"/><line x1="232" y1="733" x2="278" y2="733"/><line x1="232" y1="737" x2="278" y2="737"/>
<line x1="323" y1="729" x2="372" y2="729"/><line x1="323" y1="733" x2="372" y2="733"/><line x1="323" y1="737" x2="372" y2="737"/></g>
<rect x="216" y="726" width="16" height="14" rx="1" fill="#222"/>
<rect x="308" y="726" width="16" height="14" rx="1" fill="#222"/>
<!-- ceramic cap -->
<g stroke="#aaa" stroke-width="1.3"><line x1="396" y1="740" x2="393" y2="773"/><line x1="406" y1="740" x2="410" y2="773"/></g>
<use href="#cc" transform="translate(401,736)"/>
<!-- big diode -->
<line x1="165" y1="776" x2="362" y2="776" stroke="#aaa" stroke-width="1.6"/>
<rect x="247" y="767" width="31" height="17" rx="2" fill="#2e2e2e"/>
<rect x="250" y="767" width="3" height="17" fill="#999"/>
</svg>
</body></html>
